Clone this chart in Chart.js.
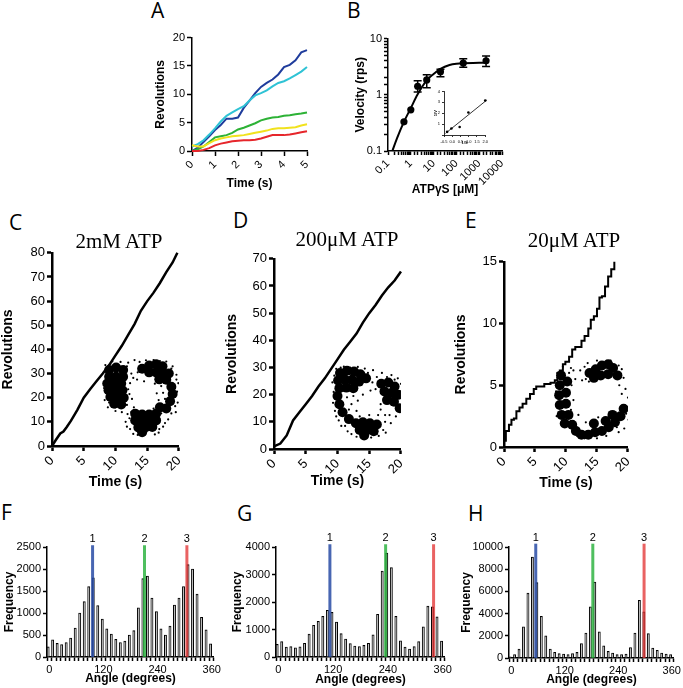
<!DOCTYPE html>
<html>
<head>
<meta charset="utf-8">
<script src="https://cdn.jsdelivr.net/npm/chart.js@4.4.1/dist/chart.umd.min.js"></script>
<style>
  body { margin: 0; background: #fff; }
  #fig { position: relative; width: 683px; height: 688px; overflow: hidden; background: #fff; }
  #fig canvas { position: absolute; }
  .tag { position: absolute; font-family: 'Open Sans', 'Noto Sans', sans-serif; font-size: 21px; line-height: 1; }
  .head { position: absolute; font-family: 'Liberation Serif', 'Times New Roman', serif; font-size: 21px; line-height: 1; white-space: nowrap; transform: translateX(-50%); }
</style>
</head>
<body>
<div id="fig">
  <canvas id="cA"></canvas>
  <canvas id="cB"></canvas>
  <canvas id="cBin"></canvas>
  <canvas id="cC"></canvas>
  <canvas id="cD"></canvas>
  <canvas id="cE"></canvas>
  <canvas id="cF"></canvas>
  <canvas id="cG"></canvas>
  <canvas id="cH"></canvas>
  <div class="tag" style="left:151px;top:0px">A</div>
  <div class="tag" style="left:347px;top:0px">B</div>
  <div class="tag" style="left:9px;top:212px">C</div>
  <div class="tag" style="left:233px;top:210px">D</div>
  <div class="tag" style="left:465px;top:210px">E</div>
  <div class="tag" style="left:1px;top:502px">F</div>
  <div class="tag" style="left:237px;top:503px">G</div>
  <div class="tag" style="left:468px;top:503px">H</div>
  <div class="head" style="left:119px;top:231px">2mM ATP</div>
  <div class="head" style="left:347px;top:229px">200μM ATP</div>
  <div class="head" style="left:574px;top:230px">20μM ATP</div>
</div>
<script>
// ---- panel A: revolutions vs time, five molecules
const timeA = [0, 0.25, 0.5, 0.75, 1, 1.25, 1.5, 1.75, 2, 2.25, 2.5, 2.75, 3, 3.25, 3.5, 3.75, 4, 4.25, 4.5, 4.75, 5];
const revBlue = [0, 0.6, 1.6, 2.6, 3.7, 4.6, 5.7, 5.7, 5.9, 7.6, 8.9, 10.2, 11.3, 12.0, 12.6, 13.5, 14.8, 15.2, 16.0, 17.4, 17.8];
const revCyan = [0.8, 1.2, 1.9, 2.9, 4.0, 5.2, 6.2, 6.8, 7.4, 7.9, 8.9, 9.8, 10.2, 10.7, 11.4, 12.0, 12.3, 12.8, 13.4, 14.0, 14.8];
const revGreen = [0, 0.3, 0.8, 1.6, 2.4, 2.6, 2.8, 3.2, 3.8, 4.1, 4.5, 4.9, 5.4, 5.7, 5.9, 6.0, 6.2, 6.3, 6.5, 6.6, 6.8];
const revYellow = [1.0, 0.8, 0.8, 1.4, 1.9, 2.2, 2.4, 2.6, 2.7, 2.8, 3.0, 3.2, 3.4, 3.6, 3.9, 4.0, 4.0, 4.1, 4.2, 4.5, 4.7];
const revRed = [0, 0, 0.2, 0.5, 1.0, 1.3, 1.5, 1.7, 1.8, 1.9, 1.9, 2.0, 2.2, 2.5, 2.8, 2.8, 2.8, 2.9, 3.1, 3.3, 3.5];

// ---- panel B: velocity vs ATPgS
const concB = [0.5, 1, 2, 5, 20, 200, 2000];
const velB = [0.33, 0.54, 1.42, 1.84, 2.58, 3.67, 4.03];
const errLowB = [0.33, 0.54, 1.12, 1.33, 2.1, 3.1, 3.2];
const errHighB = [0.33, 0.54, 1.78, 2.28, 2.86, 4.4, 4.9];
const fitXB = [0.155, 0.25, 0.5, 1, 2, 5, 10, 20, 50, 100, 1000, 2200];
const fitYB = [0.1, 0.17, 0.33, 0.58, 1.02, 1.8, 2.35, 2.9, 3.4, 3.57, 3.7, 3.72];
const insetX = [-0.31, -0.05, 0.45, 0.98, 2.0];
const insetY = [0.29, 0.6, 0.74, 2.07, 3.17];
const insetFitX = [-0.41, 2.09];
const insetFitY = [0.15, 3.2];

// ---- panels C, D, E: traces and bead clouds
const timeC = [0, 0.6, 1.3, 1.8, 2.3, 3, 4, 5, 6, 7, 8, 9, 10, 11, 12, 13, 14, 15, 16, 17, 18, 19, 19.75];
const revC = [0, 2.5, 5.2, 6, 7.8, 10.5, 15, 20, 23.5, 26.8, 30, 33.5, 37.5, 41.5, 46, 50.5, 56, 60, 63.5, 67.5, 72, 76, 80];
const timeD = [0, 1, 2, 3, 4, 5, 6, 7, 8, 9, 10, 11, 12, 13, 14, 15, 16, 17, 18, 19, 20];
const revD = [1, 2, 5, 10.5, 13.5, 16.5, 19.5, 23, 26, 29.5, 33, 36.5, 39.5, 42.5, 46.5, 50, 53, 56.5, 59.5, 62, 65.3];
const timeE = [0, 0.3, 0.8, 1.2, 1.6, 2, 2.5, 3, 3.6, 4.2, 4.8, 5.2, 6.5, 7.5, 8.2, 8.6, 9.0, 9.5, 9.9, 10.5, 11, 11.5, 12, 12.5, 13, 13.6, 14, 14.5, 15, 15.4, 15.8, 16.3, 16.8, 17.3, 17.8];
const revE = [0.5, 1.3, 1.8, 2.2, 2.3, 2.9, 3.2, 3.5, 3.9, 4.3, 4.7, 4.9, 5.1, 5.2, 5.4, 5.6, 6.2, 6.7, 6.9, 7.3, 7.9, 8.1, 8.1, 8.6, 9.0, 9.6, 10.3, 10.6, 11.2, 12.1, 12.2, 13.0, 13.8, 14.4, 15.0];

const cloudC = [[9.0,31.5],[10.1,32.5],[11.2,31.5],[9.0,28.7],[10.1,28.7],[11.2,28.7],[8.7,25.9],[9.8,25.9],[10.9,25.9],[8.9,23.1],[10.0,23.1],[11.1,23.1],[9.2,20.3],[10.3,20.3],[11.3,20.0],[9.8,17.5],[10.9,17.2],
  [15.3,33.3],[16.4,33.8],[17.4,33.0],[14.2,32.0],[15.3,30.5],[16.4,30.5],[17.4,30.5],[18.4,30.0],[16.9,27.6],[18.0,27.4],
  [18.8,24.5],[19.0,21.5],[18.6,18.5],[18.0,15.5],
  [13.1,13.4],[14.2,13.0],[15.3,13.0],[16.4,13.4],[13.1,10.6],[14.2,10.6],[15.3,10.6],[16.4,10.6],[13.6,7.7],[14.7,7.7],[15.8,7.9],[14.2,5.7],[17.0,16.0]];
const specksC = [[8.3,19.0],[8.4,33.5],[9.5,35.0],[12.0,34.5],[13.0,35.6],[12.5,30.0],[12.3,26.0],[12.0,23.5],[11.8,17.0],[11.0,14.0],[12.2,11.5],[11.8,8.0],[12.8,5.0],[16.8,5.5],[17.5,8.0],[18.3,11.0],[19.5,14.0],[19.8,18.0],[19.9,26.0],[19.6,29.5],[19.0,33.0],[18.0,35.0],[16.0,35.6],[13.4,27.5],[14.5,26.8],[16.2,25.8],[17.5,22.0],[16.8,19.0],[12.9,16.0],[16.0,15.5],[8.5,22.5],[8.8,16.0],[10.0,14.5],[12.6,19.5],
  [9.2,34.0],[10.8,34.8],[11.8,33.0],[13.8,34.8],[14.8,35.5],[17.0,35.2],[18.8,32.0],[19.6,27.5],[19.7,22.5],[19.4,16.5],[18.8,13.5],[17.8,9.5],[16.9,7.0],[16.2,4.8],[13.5,4.6],[12.3,7.0],[11.6,10.0],[11.9,13.2],[8.6,27.5],[8.2,24.0],[9.0,18.0],[10.0,16.0],[12.2,21.5],[12.8,28.2],[13.5,30.5],[17.2,24.8],[16.5,21.8],[17.8,19.5],[17.2,13.5],[12.5,14.0]];

const cloudD = [[10.4,28.0],[11.5,28.8],[12.6,28.5],[13.6,27.5],[10.1,25.2],[11.2,25.5],[12.3,25.5],[13.4,24.8],[10.3,22.4],[11.4,22.6],[12.5,22.4],[14.5,26.0],
  [16.9,24.0],[18.0,24.5],[19.0,23.0],[17.4,21.2],[18.5,20.6],[19.6,20.0],[17.8,18.0],[18.9,17.4],[19.8,15.0],
  [12.9,9.5],[14.0,9.8],[15.1,9.5],[16.2,9.0],[13.5,7.0],[14.6,6.8],[15.7,6.5],[14.2,5.0],
  [10.0,19.5],[10.3,16.5],[10.8,13.5],[11.8,11.0]];
const specksD = [[9.5,27.0],[9.4,21.0],[9.6,14.0],[10.2,10.5],[11.2,8.5],[12.2,5.5],[13.0,4.5],[16.5,4.8],[17.2,7.0],[17.5,10.0],[18.2,12.5],[20.2,13.0],[20.3,17.5],[20.2,22.0],[19.5,26.0],[18.5,27.2],[17.0,28.0],[15.6,29.0],[14.3,29.6],[12.0,30.0],[10.5,30.0],[15.5,24.5],[16.0,22.0],[12.5,19.5],[13.2,17.8],[13.0,14.0],[16.8,14.5],[17.5,12.5],[15.0,12.5],[11.5,19.0],
  [9.8,29.5],[11.0,30.3],[13.2,30.2],[14.8,28.0],[16.2,26.5],[17.8,26.5],[19.0,25.5],[20.0,24.0],[20.4,20.0],[20.4,15.5],[19.2,12.0],[18.4,9.5],[17.6,6.0],[16.2,5.5],[15.3,4.2],[11.6,6.5],[10.6,8.5],[9.8,12.0],[9.3,17.0],[9.2,24.5],[12.2,16.5],[13.5,12.0],[16.4,12.5],[16.8,16.5],[15.2,21.5],[14.0,20.0],[11.8,14.5]];

const cloudE = [[9.2,5.8],[9.0,5.0],[8.9,4.2],[9.0,3.4],[9.3,2.6],[9.8,1.9],[10.2,5.3],[10.0,4.4],[10.0,3.5],[10.4,2.6],[11.0,1.8],[11.6,1.3],
  [13.8,6.0],[14.8,6.3],[15.8,6.6],[16.8,6.7],[17.6,6.4],[14.5,5.6],[15.6,5.8],[16.8,5.9],[18.3,5.8],
  [12.5,1.0],[13.6,1.0],[14.7,1.2],[15.8,1.3],[16.9,1.6],[17.9,2.0],[18.8,2.5],[19.3,3.1],[14.5,1.9],[16.4,2.1],[17.5,2.6]];
const specksE = [[11.2,6.2],[11.5,5.5],[12.3,6.2],[13.0,6.5],[13.2,5.5],[18.5,6.6],[19.3,5.6],[19.6,4.7],[20.0,4.0],[19.9,3.2],[20.1,2.2],[19.4,1.5],[18.5,1.2],[11.2,3.8],[10.8,6.4],[8.5,2.5],[8.6,6.0],[11.8,0.9],[13.2,2.0],[12.0,2.6],
  [8.4,4.5],[8.6,3.5],[9.5,6.5],[10.5,6.0],[10.9,5.0],[10.8,3.0],[12.0,1.5],[13.0,0.7],[15.0,0.7],[16.5,0.9],[18.2,1.6],[19.7,2.7],[19.0,4.3],[18.6,5.0],[19.0,6.3],[17.2,7.0],[15.0,7.0],[13.5,6.8],[12.6,5.4],[13.7,5.3],[15.2,2.4],[20.2,5.2]];

// ---- panels F, G, H: angle histograms
const angleBins = [0, 10, 20, 30, 40, 50, 60, 70, 80, 90, 100, 110, 120, 130, 140, 150, 160, 170, 180, 190, 200, 210, 220, 230, 240, 250, 260, 270, 280, 290, 300, 310, 320, 330, 340, 350, 360];
const angleTicks = [0, 120, 240, 360];
const countF = [230, 390, 310, 280, 330, 430, 660, 1000, 1260, 1600, 1800, 1170, 860, 640, 520, 400, 330, 360, 500, 600, 1120, 1780, 1840, 1340, 1030, 640, 500, 700, 1180, 1340, 1600, 2100, 2000, 1430, 900, 620, 300];
const countG = [460, 560, 360, 380, 330, 370, 500, 830, 1150, 1300, 1480, 1700, 1620, 1270, 850, 650, 490, 400, 380, 420, 500, 810, 1550, 3120, 3780, 3250, 1480, 590, 360, 290, 380, 560, 1100, 1850, 1820, 1460, 580];
const countH = [100, 300, 800, 2800, 5850, 9100, 6800, 3750, 2000, 800, 500, 400, 350, 300, 400, 500, 1300, 2250, 4600, 6850, 2350, 1100, 600, 450, 300, 300, 350, 950, 2250, 5200, 4150, 2200, 900, 700, 450, 350, 300];
const peaksF = [96, 211, 305];
const peaksG = [113, 235, 340];
const peaksH = [55, 183, 298];
const peakNames = ['1', '2', '3'];
const peakColors = ['rgba(40,75,165,0.85)', 'rgba(35,175,55,0.8)', 'rgba(225,45,45,0.75)'];

Chart.defaults.font.family = "'Liberation Sans', Arial, sans-serif";
Chart.defaults.color = '#000';
Chart.defaults.animation = false;
Chart.defaults.responsive = false;
Chart.defaults.plugins.legend.display = false;
Chart.defaults.plugins.tooltip.enabled = false;

const pts = (xs, ys) => xs.map((x, i) => ({x: x, y: ys[i]}));
const xy = (pairs) => pairs.map(p => ({x: p[0], y: p[1]}));
const plain = (v) => String(v);

// canvas sized so that the plot area lands at area = [left, top, right, bottom]
function place(id, area, wy, hx, padT, padR) {
  const c = document.getElementById(id);
  c.width = Math.round(wy + area[2] - area[0] + padR);
  c.height = Math.round(padT + area[3] - area[1] + hx);
  c.style.left = Math.round(area[0] - wy) + 'px';
  c.style.top = Math.round(area[1] - padT) + 'px';
  return c;
}

function axisOpts(o) {
  const a = {
    type: o.type || 'linear',
    afterFit: o.horiz ? (s) => { s.height = o.fixed; } : (s) => { s.width = o.fixed; },
    grid: { drawOnChartArea: false, drawTicks: true, tickLength: o.tick || 5, tickWidth: o.lw, tickColor: '#000' },
    border: { color: '#000', width: o.lw },
    ticks: { font: { size: o.size }, color: '#000', padding: 2, autoSkip: false,
             minRotation: o.rot || 0, maxRotation: o.rot || 0, callback: o.cb || plain },
    title: { display: !!o.title, text: o.title || '', color: '#000',
             font: { size: o.titleSize || 12, weight: 'bold' }, padding: { top: 0, bottom: 2 } }
  };
  if (o.min !== undefined) a.min = o.min;
  if (o.max !== undefined) a.max = o.max;
  if (o.step !== undefined) a.ticks.stepSize = o.step;
  if (o.offset !== undefined) a.grid.offset = o.offset;
  return a;
}

const decadeLabel = (v) => Math.abs(Math.log10(v) - Math.round(Math.log10(v))) < 1e-6 ? String(v) : '';

// ---- A
const colorsA = ['#1f3c9c', '#2fc3d5', '#2db236', '#f1e21d', '#e6262b'];
new Chart(place('cA', [192, 37, 307, 151], 39, 42, 8, 12), {
  type: 'line',
  data: { datasets: [revRed, revYellow, revGreen, revCyan, revBlue].map((r, i) => ({
    data: pts(timeA, r), borderColor: colorsA[4 - i], borderWidth: 2, pointRadius: 0, tension: 0, clip: false
  })) },
  options: {
    layout: { padding: { top: 8, right: 12 } },
    scales: {
      x: axisOpts({ min: 0, max: 5, step: 1, rot: 45, size: 11, lw: 1.5, horiz: true, fixed: 42, title: 'Time (s)' }),
      y: axisOpts({ min: 0, max: 20, step: 5, size: 11, lw: 1.5, fixed: 39, title: 'Revolutions' })
    }
  }
});

// ---- B
const errBars = {
  id: 'errBars',
  afterDatasetsDraw(chart) {
    const ctx = chart.ctx, x = chart.scales.x, y = chart.scales.y;
    ctx.save();
    ctx.strokeStyle = '#000';
    ctx.lineWidth = 1.5;
    concB.forEach((c, i) => {
      if (errHighB[i] - errLowB[i] < 0.01) return;
      const px = x.getPixelForValue(c);
      const y1 = y.getPixelForValue(errLowB[i]), y2 = y.getPixelForValue(errHighB[i]);
      ctx.beginPath();
      ctx.moveTo(px, y1); ctx.lineTo(px, y2);
      ctx.moveTo(px - 4, y1); ctx.lineTo(px + 4, y1);
      ctx.moveTo(px - 4, y2); ctx.lineTo(px + 4, y2);
      ctx.stroke();
    });
    ctx.restore();
  }
};
new Chart(place('cB', [388, 38, 502, 151], 35, 48, 8, 14), {
  type: 'scatter',
  data: { datasets: [
    { data: pts(fitXB, fitYB), showLine: true, borderColor: '#000', borderWidth: 2, pointRadius: 0, cubicInterpolationMode: 'monotone', clip: false },
    { data: pts(concB, velB), pointRadius: 3.6, backgroundColor: '#000', pointBorderWidth: 0 }
  ] },
  options: {
    layout: { padding: { top: 8, right: 14 } },
    scales: {
      x: axisOpts({ type: 'logarithmic', min: 0.1, max: 10000, rot: 45, size: 11, lw: 1.5, horiz: true, fixed: 48, title: 'ATPγS [μM]', cb: decadeLabel, tick: 4 }),
      y: axisOpts({ type: 'logarithmic', min: 0.1, max: 10, size: 11, lw: 1.5, fixed: 35, title: 'Velocity (rps)', cb: decadeLabel, tick: 4 })
    }
  },
  plugins: [errBars]
});

// B inset (double reciprocal)
new Chart(place('cBin', [443.5, 90, 485.5, 135], 11, 12, 3, 4), {
  type: 'scatter',
  data: { datasets: [
    { data: pts(insetFitX, insetFitY), showLine: true, borderColor: '#000', borderWidth: 0.8, pointRadius: 0, clip: false },
    { data: pts(insetX, insetY), pointRadius: 1.3, backgroundColor: '#000', pointBorderWidth: 0, clip: false }
  ] },
  options: {
    layout: { padding: { top: 3, right: 4 } },
    scales: {
      x: axisOpts({ min: -0.5, max: 2.0, step: 0.5, size: 4, lw: 0.8, horiz: true, fixed: 12, title: '1/S', titleSize: 4, tick: 2,
                    cb: (v) => v.toFixed(1) }),
      y: axisOpts({ min: 0, max: 4, step: 1, size: 4, lw: 0.8, fixed: 11, title: '1/V', titleSize: 4, tick: 2,
                    cb: (v) => v > 0 ? String(v) : '' })
    }
  }
});

// ---- C, D, E
function tracePanel(id, area, wy, hx, times, revs, cloud, specks, yMax, yStep, lineW, stepped) {
  new Chart(place(id, area, wy, hx, 6, 10), {
    type: 'scatter',
    data: { datasets: [
      { data: pts(times, revs), showLine: true, borderColor: '#000', borderWidth: lineW, pointRadius: 0, stepped: stepped, clip: false },
      { data: xy(cloud), pointRadius: 5, backgroundColor: '#000', pointBorderWidth: 0 },
      { data: xy(specks), pointRadius: 1.1, backgroundColor: '#000', pointBorderWidth: 0 }
    ] },
    options: {
      layout: { padding: { top: 6, right: 10 } },
      scales: {
        x: axisOpts({ min: 0, max: 20, step: 5, rot: 45, size: 13, lw: 2.5, horiz: true, fixed: hx, title: 'Time (s)', titleSize: 14 }),
        y: axisOpts({ min: 0, max: yMax, step: yStep, size: 13, lw: 2.5, fixed: wy, title: 'Revolutions', titleSize: 14 })
      }
    }
  });
}
tracePanel('cC', [52, 249, 182, 446], 52, 47, timeC, revC, cloudC, specksC, 80, 10, 2.5, false);
tracePanel('cD', [274, 255, 404, 449], 50, 43, timeD, revD, cloudD, specksD, 70, 10, 2.5, false);
tracePanel('cE', [504, 258, 631, 447], 51, 47, timeE, revE, cloudE, specksE, 15, 5, 2, true);

// ---- F, G, H
const peakNumbers = {
  id: 'peakNumbers',
  afterDatasetsDraw(chart) {
    const ctx = chart.ctx;
    ctx.save();
    ctx.font = "11px 'Liberation Sans', Arial, sans-serif";
    ctx.fillStyle = '#000';
    ctx.textAlign = 'center';
    chart.data.datasets.forEach((ds, i) => {
      if (!ds.peakLabel) return;
      const top = chart.getDatasetMeta(i).data[1];
      ctx.fillText(ds.peakLabel, top.x, top.y - 3);
    });
    ctx.restore();
  }
};
function histPanel(id, area, wy, hx, counts, yMax, yStep, peaks, lineTop) {
  const lines = peaks.map((a, i) => ({
    type: 'line', xAxisID: 'xl', data: [{x: a, y: 0}, {x: a, y: lineTop}],
    borderColor: peakColors[i], borderWidth: 3, pointRadius: 0, clip: false, order: 1, peakLabel: peakNames[i]
  }));
  new Chart(place(id, area, wy, hx, 16, 8), {
    type: 'bar',
    data: { labels: angleBins, datasets: [
      { data: counts, backgroundColor: '#c4c4c4', borderColor: '#000', borderWidth: 1, barPercentage: 1, categoryPercentage: 1, order: 2 }
    ].concat(lines) },
    options: {
      layout: { padding: { top: 16, right: 8 } },
      scales: {
        x: axisOpts({ type: 'category', size: 11, lw: 1.5, horiz: true, fixed: hx, title: 'Angle (degrees)', tick: 4, offset: true,
                      cb: function (v) { const a = this.getLabelForValue(v); return angleTicks.includes(a) ? String(a) : ''; } }),
        xl: { type: 'linear', display: false, min: -5, max: 365, offset: false, grid: { offset: false } },
        y: axisOpts({ min: 0, max: yMax, step: yStep, size: 11, lw: 1.5, fixed: wy, title: 'Frequency', tick: 4 })
      }
    },
    plugins: [peakNumbers]
  });
}
histPanel('cF', [47, 547, 215, 657], 45, 31, countF, 2500, 500, peaksF, 2540);
histPanel('cG', [276, 547, 446, 657], 46, 32, countG, 4000, 1000, peaksG, 4100);
histPanel('cH', [509, 547, 675, 658], 50, 31, countH, 10000, 2000, peaksH, 10300);
</script>
</body>
</html>
